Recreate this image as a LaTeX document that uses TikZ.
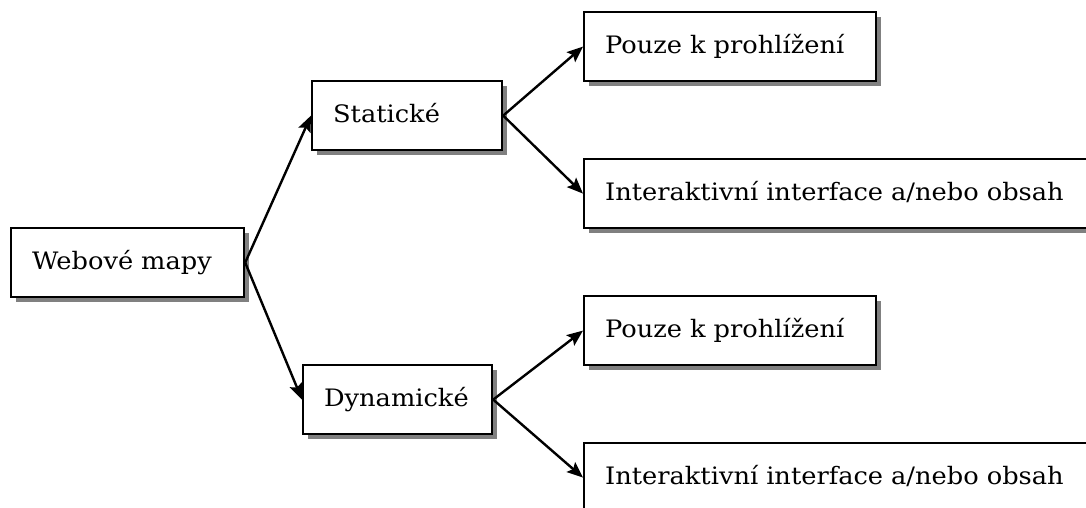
\documentclass[tikz,border=0pt]{standalone}
\usepackage{fontspec}
\setmainfont[FakeStretch=1.07]{DejaVu Serif}
\usetikzlibrary{shadows,arrows.meta}
\tikzset{
  box/.style={draw, line width=2.2pt, fill=white, rectangle, anchor=north west,
    minimum height=69pt, text height=18pt, text depth=5pt, inner ysep=0pt,
    inner xsep=21pt, align=left,
    font=\fontsize{24}{28}\selectfont,
    drop shadow={shadow xshift=5pt, shadow yshift=-5pt, fill=black!50, opacity=1, draw=none}},
  arr/.style={line width=2.4pt, -{Stealth[length=16pt,width=13pt,inset=3pt]}}
}
\begin{document}
\begin{tikzpicture}[x=1pt,y=-1pt]
\useasboundingbox (0,0) rectangle (1086,508);
\clip (0,0) rectangle (1086,508);
\node[box, text width=191pt] (web) at (10,227) {\mbox{Webové mapy}};
\node[box, text width=148pt] (stat) at (311,80) {\mbox{Statické}};
\node[box, text width=147pt] (dyn) at (302,364) {\mbox{Dynamické}};
\node[box, text width=250pt] (p1) at (583,11) {\mbox{Pouze k prohlížení}};
\node[box, text width=468pt] (i1) at (583,158) {\mbox{Interaktivní interface a/nebo obsah}};
\node[box, text width=250pt] (p2) at (583,295) {\mbox{Pouze k prohlížení}};
\node[box, text width=468pt] (i2) at (583,442) {\mbox{Interaktivní interface a/nebo obsah}};
\draw[arr] (web.east) -- (stat.west);
\draw[arr] (web.east) -- (dyn.west);
\draw[arr] (stat.east) -- (p1.west);
\draw[arr] (stat.east) -- (i1.west);
\draw[arr] (dyn.east) -- (p2.west);
\draw[arr] (dyn.east) -- (i2.west);
\end{tikzpicture}
\end{document}
